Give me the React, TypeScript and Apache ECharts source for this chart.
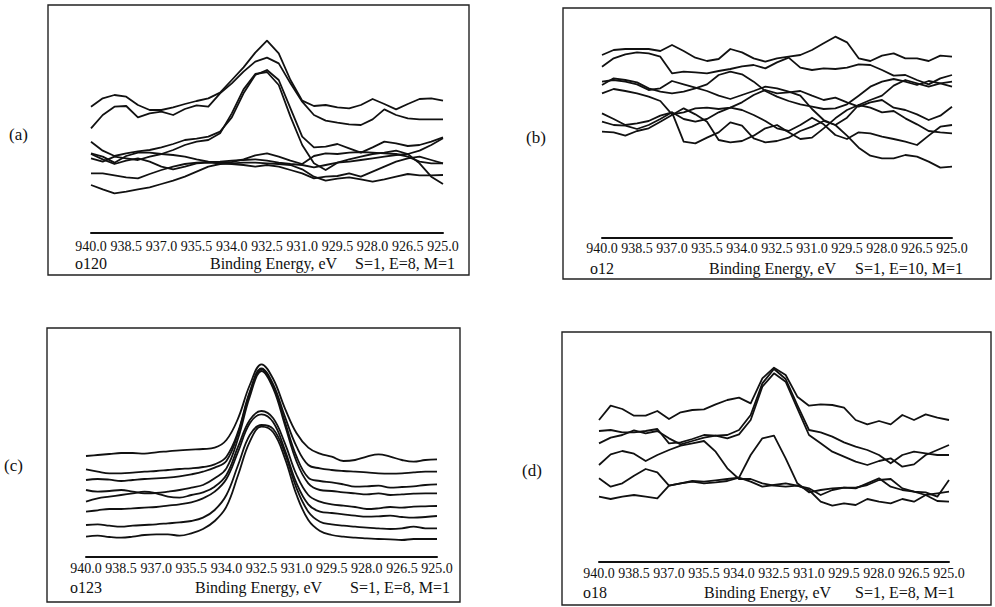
import React, { useEffect, useRef } from "react";
import * as echarts from "echarts";

// Binding energy sampling (eV), shared by all four spectra sets
const energies = [
  940.0, 939.5, 939.0, 938.5, 938.0, 937.5, 937.0, 936.5, 936.0, 935.5, 935.0,
  934.5, 934.0, 933.5, 933.0, 932.5, 932.0, 931.5, 931.0, 930.5, 930.0, 929.5,
  929.0, 928.5, 928.0, 927.5, 927.0, 926.5, 926.0, 925.5, 925.0,
];

const panelLabels = ["(a)", "(b)", "(c)", "(d)"];
const sampleNames = ["o120", "o12", "o123", "o18"];
const paramTexts = ["S=1, E=8, M=1", "S=1, E=10, M=1", "S=1, E=8, M=1", "S=1, E=8, M=1"];
const axisTitle = "Binding Energy, eV";
const yMax = [609, 639, 606, 621];

// (a) o120 intensities (arb. units)
const a1 = [379,404,414,409,384,369,369,377,387,396,404,421,459,497,541,577,539,459,397,381,384,377,374,384,402,387,371,387,402,404,397];
const a2 = [314,354,379,381,347,359,364,354,372,383,379,419,449,484,514,526,509,449,394,354,337,331,326,324,341,371,354,344,341,341,341];
const a3 = [274,247,231,239,245,249,257,267,279,283,289,304,347,419,474,489,459,374,289,257,259,267,254,241,257,274,269,261,264,274,287];
const a4 = [224,214,229,224,219,229,237,249,264,274,279,299,359,431,477,483,444,349,264,209,189,211,221,229,237,241,247,237,209,169,147];
const a5 = [239,229,211,231,241,241,237,234,229,221,214,211,213,221,233,239,229,217,207,231,239,237,241,243,241,239,237,229,214,209,209];
const a6 = [179,179,173,167,164,177,189,199,207,211,213,214,217,219,221,217,211,207,204,197,204,211,214,219,224,229,234,237,247,264,284];
const a7 = [144,131,119,124,131,137,147,157,169,184,199,207,209,211,211,209,207,204,191,169,157,163,167,161,154,161,169,177,173,173,174];
const a8 = [237,221,207,217,224,214,199,191,199,209,211,209,207,204,199,204,199,189,179,164,169,171,179,169,184,199,214,224,229,219,209];

// (b) o12
const b1 = [549,564,567,567,567,561,579,561,541,531,537,567,557,539,529,539,544,549,564,584,604,587,539,531,547,554,539,539,531,547,544];
const b2 = [514,539,551,557,554,544,494,499,497,494,501,507,515,519,509,527,541,511,504,509,507,511,521,519,504,487,489,474,461,479,489];
const b3 = [469,474,469,461,444,449,471,461,451,441,427,417,429,441,454,449,439,427,387,354,339,361,399,414,427,457,474,464,454,464,469];
const b4 = [434,447,441,434,424,411,371,377,389,391,387,391,407,429,444,434,437,441,427,414,421,407,394,407,414,391,384,371,354,367,394];
const b5 = [374,357,339,344,351,367,377,357,349,357,377,391,384,369,351,329,321,339,361,341,309,297,317,314,304,297,289,279,307,334,339];
const b6 = [349,339,337,327,339,357,377,289,284,301,317,347,337,299,287,291,301,321,334,351,339,307,271,247,239,239,249,244,229,211,214];
const b7 = [319,317,307,321,329,349,369,389,371,349,294,287,291,307,329,339,317,297,301,329,359,384,399,391,377,381,359,341,321,317,314];
const b8 = [459,479,474,467,449,439,434,439,449,461,489,499,491,469,441,424,411,401,394,387,389,401,427,454,469,477,469,459,471,464,454];

// (c) o123
const c1 = [303,306,309,312,312,310,314,317,320,322,324,328,351,416,516,578,534,446,371,328,310,301,288,291,301,308,301,291,286,291,293];
const c2 = [263,256,251,251,253,256,258,261,264,266,270,278,301,376,496,566,518,421,331,276,266,261,258,256,254,251,250,251,254,256,256];
const c3 = [231,234,232,228,231,234,236,238,242,248,256,268,288,371,491,564,511,406,301,238,228,224,218,211,212,214,208,210,212,216,218];
const c4 = [201,196,198,201,196,191,192,196,201,208,216,236,266,356,481,558,506,396,286,221,201,198,194,191,188,191,186,188,190,191,191];
const c5 = [166,176,181,186,191,196,191,181,178,186,194,211,246,331,411,438,416,341,246,186,166,158,154,150,144,146,150,148,151,152,153];
const c6 = [136,140,144,144,146,148,150,154,158,164,176,196,234,316,401,428,404,321,221,158,136,132,128,124,121,122,124,120,118,120,123];
const c7 = [96,98,94,91,94,96,98,101,104,108,118,141,186,276,366,396,384,311,206,136,106,98,94,91,88,86,84,86,91,86,86];
const c8 = [61,64,60,58,61,66,68,68,64,71,84,108,151,246,346,391,374,296,186,111,78,66,61,58,56,54,53,51,54,54,54];

// (d) o18
const d1 = [426,469,459,439,439,453,429,449,456,458,473,486,493,476,551,583,561,496,469,473,471,463,426,413,423,413,441,426,443,433,426];
const d2 = [393,396,389,389,393,399,356,359,369,381,379,381,396,441,536,579,549,471,396,389,376,359,346,336,321,296,321,331,326,321,321];
const d3 = [356,373,381,395,386,393,371,353,363,373,379,371,383,426,526,566,541,461,381,356,331,316,301,291,303,311,286,293,321,336,351];
const d4 = [291,323,333,325,303,321,336,349,356,363,331,281,249,249,236,229,226,229,221,201,216,223,221,236,251,226,216,211,201,206,211];
const d5 = [251,226,236,259,279,269,229,236,241,236,239,243,253,321,371,379,311,236,209,216,221,223,223,231,246,249,221,211,209,196,246];
const d6 = [196,189,196,201,196,191,229,236,243,241,245,249,253,241,226,231,236,229,216,181,169,176,171,189,181,176,189,181,201,183,181];

const panelSeries = [
  [a1, a2, a3, a4, a5, a6, a7, a8],
  [b1, b2, b3, b4, b5, b6, b7, b8],
  [c1, c2, c3, c4, c5, c6, c7, c8],
  [d1, d2, d3, d4, d5, d6],
];

// layout (pixels)
const grids = [
  { left: 91, top: 30, width: 352, height: 203 },
  { left: 602, top: 25, width: 350, height: 213 },
  { left: 86, top: 355, width: 351, height: 202 },
  { left: 599, top: 355, width: 350, height: 207 },
];
const labelMargins = [6, 3, 4, 4];
const boxes = [
  { x: 48, y: 5, w: 421, h: 270 },
  { x: 563, y: 8, w: 428, h: 271 },
  { x: 47, y: 328, w: 413, h: 274 },
  { x: 562, y: 332, w: 429, h: 273 },
];
const footerY = [263, 268, 587, 592];
const nameX = [75, 590, 70, 583];
const titleX = [210, 709, 195, 704];
const paramX = [355, 855, 350, 855];
const panelLabelPos = [
  { x: 9, y: 134 },
  { x: 526, y: 137 },
  { x: 4, y: 465 },
  { x: 522, y: 470 },
];

const FONT = '"Liberation Serif", "DejaVu Serif", serif';

export default function App() {
  const ref = useRef<HTMLDivElement>(null);

  useEffect(() => {
    if (!ref.current) return;
    const chart = echarts.init(ref.current, undefined, { renderer: "svg" });

    const series: any[] = [];
    panelSeries.forEach((lines, p) => {
      lines.forEach((vals, k) => {
        series.push({
          type: "line",
          name: `${sampleNames[p]}-${k + 1}`,
          xAxisIndex: p,
          yAxisIndex: p,
          data: energies.map((e, i) => [e, vals[i]]),
          showSymbol: false,
          symbol: "none",
          smooth: p === 2 ? 0.4 : false,
          silent: true,
          lineStyle: { color: "#111", width: 1.8, join: "round" },
        });
      });
    });

    const graphic: any[] = [];
    boxes.forEach((b) => {
      graphic.push({
        type: "rect",
        shape: { x: b.x, y: b.y, width: b.w, height: b.h },
        style: { fill: "none", stroke: "#222", lineWidth: 1.4 },
        silent: true,
      });
    });
    const txt = (text: string, x: number, y: number, size = 16) => ({
      type: "text",
      x,
      y,
      silent: true,
      style: {
        text,
        font: `${size}px ${FONT}`,
        fill: "#111",
        textAlign: "left",
        textVerticalAlign: "middle",
      },
    });
    for (let p = 0; p < 4; p++) {
      graphic.push(txt(sampleNames[p], nameX[p], footerY[p]));
      graphic.push(txt(axisTitle, titleX[p], footerY[p]));
      graphic.push(txt(paramTexts[p], paramX[p], footerY[p]));
      graphic.push(txt(panelLabels[p], panelLabelPos[p].x, panelLabelPos[p].y, 17));
    }

    chart.setOption({
      animation: false,
      backgroundColor: "#fff",
      grid: grids.map((g) => ({ ...g, containLabel: false })),
      xAxis: grids.map((_, p) => ({
        type: "value",
        gridIndex: p,
        min: 925,
        max: 940,
        interval: 1.5,
        inverse: true,
        axisLine: { show: true, onZero: false, lineStyle: { color: "#111", width: 2 } },
        axisTick: { show: false },
        splitLine: { show: false },
        axisLabel: {
          show: true,
          showMinLabel: true,
          showMaxLabel: true,
          margin: labelMargins[p],
          color: "#111",
          fontFamily: FONT,
          fontSize: 14,
          formatter: (v: number) => v.toFixed(1),
        },
      })),
      yAxis: grids.map((_, p) => ({
        type: "value",
        gridIndex: p,
        min: 0,
        max: yMax[p],
        show: false,
        splitLine: { show: false },
      })),
      series,
      graphic,
    });

    return () => chart.dispose();
  }, []);

  return (
    <div
      ref={ref}
      style={{ position: "fixed", left: 0, top: 0, width: 995, height: 607, background: "#fff" }}
    />
  );
}
